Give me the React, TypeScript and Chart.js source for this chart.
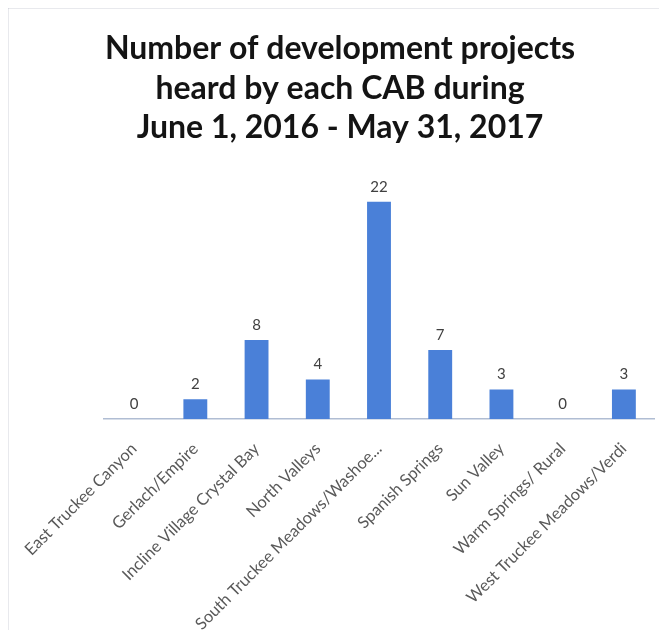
import React, { useEffect, useRef } from "react";
import { Chart, registerables } from "chart.js";

Chart.register(...registerables);

const TITLE_LINES = [
  "Number of development projects",
  "heard by each CAB during",
  "June 1, 2016 - May 31, 2017",
];
const CATEGORIES = [
  "East Truckee Canyon",
  "Gerlach/Empire",
  "Incline Village Crystal Bay",
  "North Valleys",
  "South Truckee Meadows/Washoe...",
  "Spanish Springs",
  "Sun Valley",
  "Warm Springs/ Rural",
  "West Truckee Meadows/Verdi",
];
const PROJECTS = [0, 2, 8, 4, 22, 7, 3, 0, 3];

const FONT = "Lato, 'Open Sans', sans-serif";

const framePlugin = {
  id: "frame",
  beforeDraw(chart: any) {
    const ctx = chart.ctx;
    ctx.save();
    ctx.fillStyle = "#ffffff";
    ctx.fillRect(0, 0, chart.width, chart.height);
    ctx.strokeStyle = "#a3a6b8";
    ctx.lineWidth = 1.5;
    ctx.beginPath();
    ctx.moveTo(7.5, chart.height);
    ctx.lineTo(7.5, 7.5);
    ctx.lineTo(chart.width, 7.5);
    ctx.stroke();
    ctx.restore();
  },
};

const titlePlugin = {
  id: "customTitle",
  afterDraw(chart: any) {
    const ctx = chart.ctx;
    ctx.save();
    ctx.fillStyle = "#141414";
    ctx.font = `bold 32px ${FONT}`;
    ctx.textAlign = "center";
    ctx.textBaseline = "middle";
    TITLE_LINES.forEach((line, i) => {
      ctx.fillText(line, 340, 49 + i * 39.5);
    });
    ctx.restore();
  },
};

const valueLabelPlugin = {
  id: "valueLabels",
  afterDatasetsDraw(chart: any) {
    const ctx = chart.ctx;
    const meta = chart.getDatasetMeta(0);
    const data = chart.data.datasets[0].data;
    ctx.save();
    ctx.fillStyle = "#404040";
    ctx.font = `15px ${FONT}`;
    ctx.textAlign = "center";
    ctx.textBaseline = "middle";
    meta.data.forEach((bar: any, i: number) => {
      ctx.fillText(String(data[i]), bar.x, bar.y - 15);
    });
    ctx.restore();
  },
};

export default function App() {
  const ref = useRef<HTMLCanvasElement>(null);
  useEffect(() => {
    if (!ref.current) return;
    const chart = new Chart(ref.current, {
      type: "bar",
      data: {
        labels: CATEGORIES,
        datasets: [
          {
            data: PROJECTS,
            backgroundColor: "#4a80d8",
            barPercentage: 0.78,
            categoryPercentage: 0.5,
          },
        ],
      },
      options: {
        animation: false,
        responsive: false,
        maintainAspectRatio: false,
        layout: { padding: { left: 103.5, right: 12.5, top: 182, bottom: 0 } },
        plugins: {
          legend: { display: false },
          tooltip: { enabled: false },
          title: { display: false },
        },
        scales: {
          x: {
            grid: { display: false },
            border: { display: true, color: "#b0bdd3", width: 1.5 },
            ticks: {
              autoSkip: false,
              maxRotation: 45,
              minRotation: 45,
              color: "#595959",
              padding: 12,
              font: { family: FONT, size: 16.5 },
            },
            afterFit(scale: any) {
              scale.paddingLeft = 0;
              scale.paddingRight = 0;
              scale.height = 638 - 419;
            },
          },
          y: {
            display: false,
            min: 0,
            max: 24,
          },
        },
      },
      plugins: [framePlugin, titlePlugin, valueLabelPlugin],
    });
    return () => chart.destroy();
  }, []);
  return (
    <div style={{ margin: -8, width: 667, height: 638 }}>
      <canvas ref={ref} width={667} height={638} style={{ display: "block", width: 667, height: 638 }} />
    </div>
  );
}
